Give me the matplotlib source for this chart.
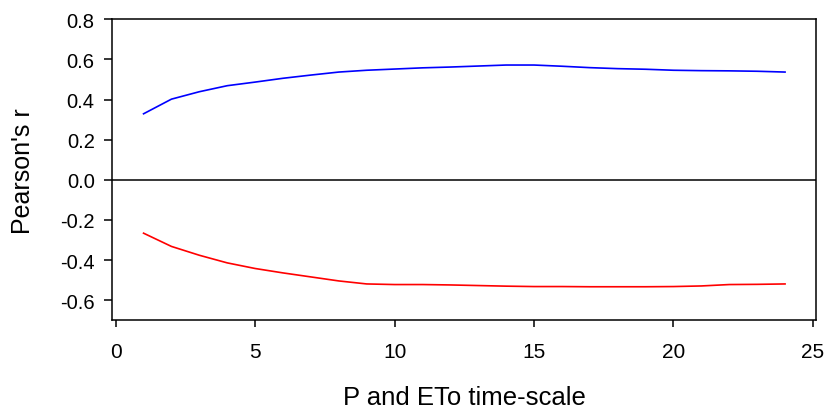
import numpy as np
import matplotlib
matplotlib.use("Agg")
import matplotlib.pyplot as plt

plt.rcParams['font.family'] = ['Liberation Sans', 'DejaVu Sans']

# time-scale (months) and correlation values
scales = list(range(1, 25))
r_pos = [0.329, 0.402, 0.439, 0.469, 0.487, 0.506, 0.522, 0.537, 0.546, 0.552,
         0.558, 0.562, 0.567, 0.572, 0.572, 0.566, 0.559, 0.554, 0.551, 0.546,
         0.544, 0.543, 0.541, 0.537]
r_neg = [-0.266, -0.332, -0.376, -0.414, -0.442, -0.464, -0.484, -0.504, -0.519, -0.522,
         -0.522, -0.524, -0.527, -0.530, -0.532, -0.532, -0.533, -0.533, -0.533, -0.532,
         -0.529, -0.522, -0.521, -0.519]
xticks = [0, 5, 10, 15, 20, 25]
yticks = [-0.6, -0.4, -0.2, 0.0, 0.2, 0.4, 0.6, 0.8]

fig = plt.figure(figsize=(8.25, 4.14), dpi=100)
ax = fig.add_axes([0.1358, 0.224, 0.8533, 0.727])

ax.plot(scales, r_pos, color='blue', lw=1.2)
ax.plot(scales, r_neg, color='red', lw=1.2)
ax.axhline(0, color='black', lw=1.1)

ax.set_xlim(-0.13, 25.11)
ax.set_ylim(-0.70, 0.80)
ax.set_xticks(xticks)
ax.set_yticks(yticks)
ax.set_yticklabels(['%.1f' % v for v in yticks])

for s in ax.spines.values():
    s.set_linewidth(1.1)
ax.tick_params(axis='both', direction='out', width=1.1)
ax.tick_params(axis='x', length=5, pad=11, labelsize=15)
ax.tick_params(axis='y', length=5.5, pad=7, labelsize=14.5)

ax.set_xlabel('P and ETo time-scale', fontsize=18.5, labelpad=17)
ax.set_ylabel("Pearson's r", fontsize=18, labelpad=18)

fig.savefig('out.png', dpi=100)
